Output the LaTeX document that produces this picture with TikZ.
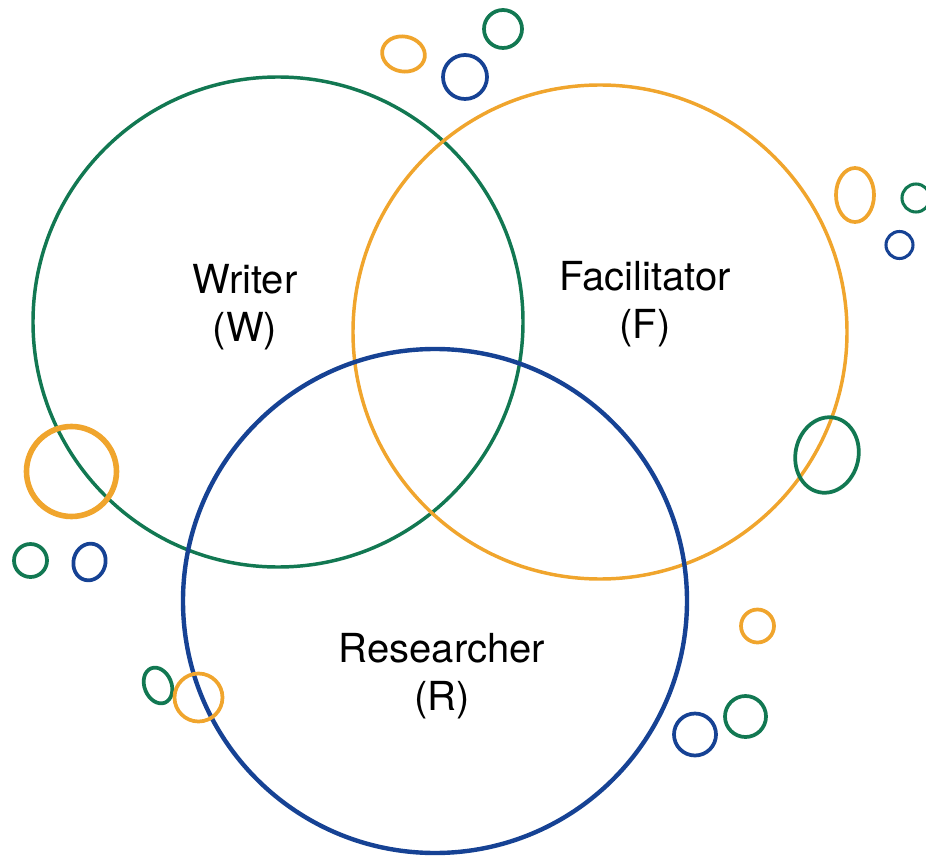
\documentclass[tikz,border=0pt]{standalone}
\usepackage{fontspec}
\setmainfont{TeX Gyre Heros}
\definecolor{rolegreen}{RGB}{18,120,82}
\definecolor{roleorange}{RGB}{240,165,45}
\definecolor{roleblue}{RGB}{22,66,148}
\tikzset{
  bigring/.style={line width=2.6pt},
  smallring/.style={line width=2.8pt},
  rolelabel/.style={align=center,inner sep=0.75pt,font=\fontsize{30}{36}\selectfont}
}

\begin{document}
\begin{tikzpicture}[x=0.75pt,y=0.75pt,yscale=-1,xscale=1]
\useasboundingbox (0,0) rectangle (926,856);

%Shape: Circle [Writer]
\draw [bigring, color=rolegreen] (278,322) circle [radius=245];
%Shape: Circle [Facilitator]
\draw [bigring, color=roleorange] (600,332) circle [radius=247];
%Shape: Circle [Researcher]
\draw [bigring, color=roleblue, line width=3.3pt] (435,601) circle [radius=252];

%Shape: Ellipse
\draw [smallring, color=roleorange] (403.5,54) circle [x radius=21.5, y radius=17.5, rotate=10];
%Shape: Circle
\draw [smallring, color=rolegreen] (503,29) circle [radius=19];
%Shape: Circle
\draw [smallring, color=roleblue] (465,77) circle [radius=22];
%Shape: Ellipse
\draw [smallring, color=roleorange] (855,195) circle [x radius=19, y radius=27];
%Shape: Circle
\draw [smallring, color=rolegreen, line width=2.3pt] (916,198) circle [radius=14];
%Shape: Circle
\draw [smallring, color=roleblue, line width=2.3pt] (899.5,245) circle [radius=13.5];
%Shape: Circle
\draw [smallring, color=roleorange, line width=4.2pt] (71.5,471.5) circle [radius=45];
%Shape: Circle
\draw [smallring, color=rolegreen] (30.5,560.5) circle [radius=16.5];
%Shape: Ellipse
\draw [smallring, color=roleblue] (89.5,562) circle [x radius=16, y radius=18.5, rotate=15];
%Shape: Ellipse
\draw [smallring, color=rolegreen] (827,455) circle [x radius=31.5, y radius=38, rotate=12];
%Shape: Circle
\draw [smallring, color=roleorange] (757.5,626) circle [radius=16.5];
%Shape: Circle
\draw [smallring, color=rolegreen] (745.5,716.5) circle [radius=20.5];
%Shape: Circle
\draw [smallring, color=roleblue] (695,734.5) circle [radius=21];
%Shape: Ellipse
\draw [smallring, color=rolegreen] (158,685.5) circle [x radius=13.5, y radius=18.5, rotate=-22];
%Shape: Circle
\draw [smallring, color=roleorange] (198.5,697.5) circle [radius=24];

% Text Node
\node [rolelabel] (writer) at (245,307) {Writer\\(W)};
% Text Node
\node [rolelabel] (facilitator) at (645,304) {Facilitator\\(F)};
% Text Node
\node [rolelabel] (researcher) at (442,676) {Researcher\\(R)};

\end{tikzpicture}
\end{document}
